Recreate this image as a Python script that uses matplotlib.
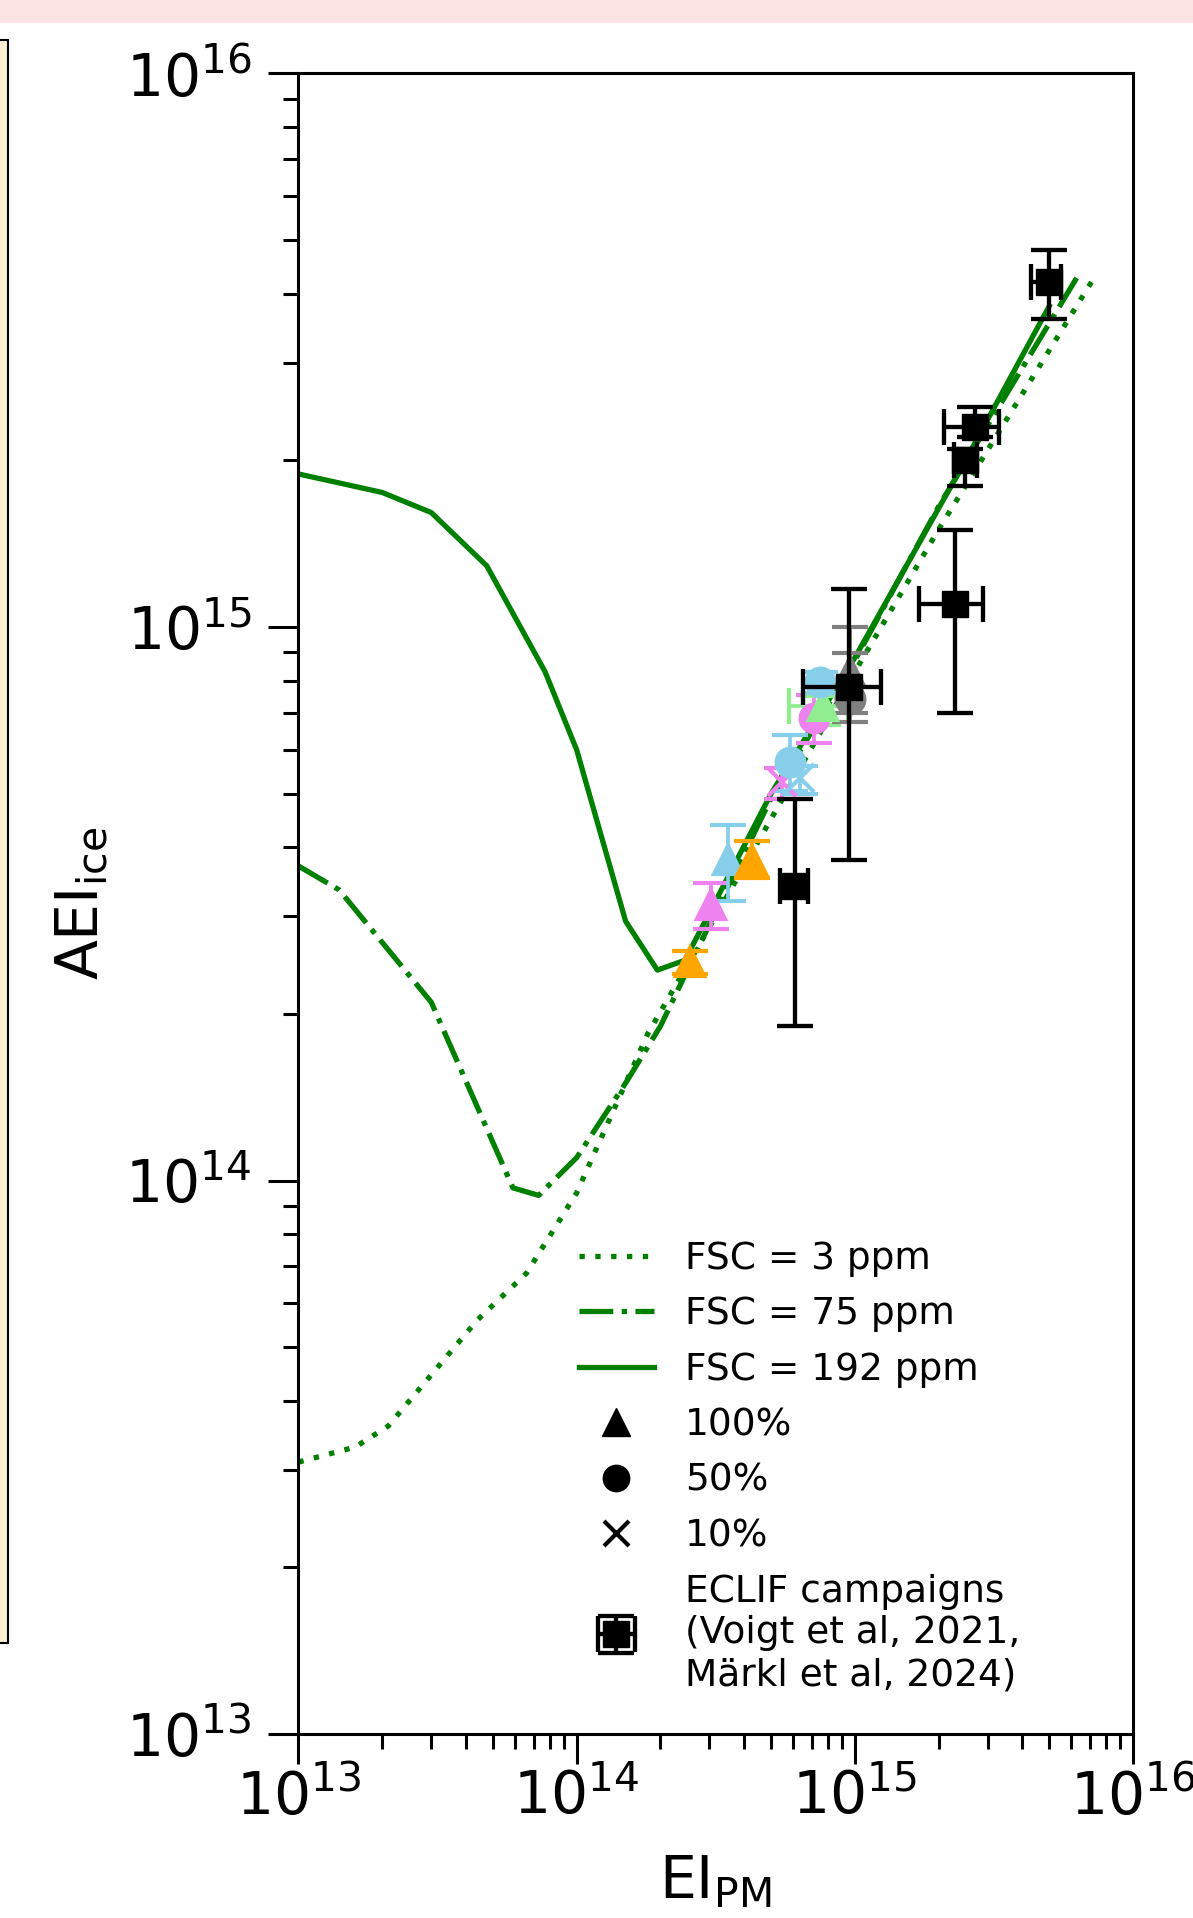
import matplotlib
matplotlib.use("Agg")
import matplotlib.pyplot as plt
from matplotlib.lines import Line2D
from matplotlib.patches import Rectangle

GREEN = "green"

# model curves: AEI_ice against EI_PM for three fuel sulphur contents
fsc3_x = [1e13, 1.6e13, 2.1e13, 4.4e13, 6.6e13, 1e14, 1.8e14, 3e14, 5e14, 1e15, 2e15, 7.3e15]
fsc3_y = [3.1e13, 3.3e13, 3.6e13, 5.6e13, 6.8e13, 9.5e13, 1.84e14, 2.87e14, 4.5e14, 8.3e14, 1.5e15, 4.3e15]
fsc75_x = [1e13, 1.4e13, 3e13, 5.9e13, 7.3e13, 1e14, 1.5e14, 2e14, 3e14, 5e14, 1e15, 2e15, 6.5e15]
fsc75_y = [3.7e14, 3.35e14, 2.1e14, 9.7e13, 9.4e13, 1.1e14, 1.5e14, 1.9e14, 2.9e14, 4.9e14, 8.7e14, 1.65e15, 4.4e15]
fsc192_x = [1e13, 2e13, 3e13, 4.75e13, 7.7e13, 1e14, 1.5e14, 1.95e14, 2.45e14, 5e14, 1e15, 2.5e15, 5e15]
fsc192_y = [1.89e15, 1.75e15, 1.61e15, 1.29e15, 8.3e14, 6.0e14, 2.94e14, 2.4e14, 2.5e14, 5.0e14, 8.8e14, 2.0e15, 3.8e15]

# simulated points (marker = fraction, colour = case)
sim_x = [2.55e14, 3.05e14, 3.51e14, 4.26e14, 5.46e14, 6.35e14, 5.85e14, 7.14e14, 7.67e14, 7.48e14, 9.6e14, 9.6e14]
sim_y = [2.48e14, 3.14e14, 3.79e14, 3.79e14, 5.25e14, 5.33e14, 5.7e14, 6.84e14, 7.2e14, 7.94e14, 7.4e14, 8.28e14]
sim_ylo = [2.36e14, 2.85e14, 3.2e14, 3.52e14, 4.89e14, 5.0e14, 5.06e14, 6.16e14, 6.64e14, 7.6e14, 6.74e14, 7.0e14]
sim_yhi = [2.6e14, 3.45e14, 4.39e14, 4.1e14, 5.57e14, 5.6e14, 6.38e14, 7.54e14, 7.5e14, 8.3e14, 8.97e14, 1.0e15]
sim_xlo = [None, None, None, None, None, None, None, None, 5.81e14, None, None, None]
sim_xhi = [None, None, None, None, None, None, None, None, 9.45e14, None, None, None]
sim_color = ["orange", "violet", "skyblue", "orange", "violet", "skyblue", "skyblue", "violet",
             "lightgreen", "skyblue", "gray", "gray"]
sim_marker = ["^", "^", "^", "^", "x", "x", "o", "o", "^", "o", "o", "^"]

# ECLIF measurements
eclif_x = [6.1e14, 9.5e14, 2.29e15, 2.49e15, 2.7e15, 4.97e15]
eclif_y = [3.41e14, 7.8e14, 1.1e15, 2.0e15, 2.3e15, 4.2e15]
eclif_xlo = [5.38e14, 6.5e14, 1.7e15, 2.28e15, 2.1e15, 4.3e15]
eclif_xhi = [6.8e14, 1.24e15, 2.9e15, 2.75e15, 3.3e15, 5.5e15]
eclif_ylo = [1.9e14, 3.8e14, 7.0e14, 1.8e15, 2.2e15, 3.6e15]
eclif_yhi = [4.89e14, 1.17e15, 1.5e15, 2.1e15, 2.5e15, 4.8e15]

fig = plt.figure(figsize=(11.93, 19.18), dpi=100)
# leftovers of the surrounding page: pink strip on top, edge of the neighbouring panel
fig.patches.append(Rectangle((0, 1 - 23 / 1918), 1, 23 / 1918, transform=fig.transFigure,
                             fc="#fde4e4", ec="none"))
fig.patches.append(Rectangle((-0.01, 1 - 1643 / 1918), 0.01 + 8 / 1193, 1603 / 1918,
                             transform=fig.transFigure, fc="#fdeed3", ec="black", lw=1.5))

ax = fig.add_axes([0.2502, 0.0959, 0.6995, 0.8658])
ax.set_xscale("log"); ax.set_yscale("log")

LW = 3.8
ax.plot(fsc3_x, fsc3_y, color=GREEN, lw=LW, ls=(0, (1, 2)))
ax.plot(fsc75_x, fsc75_y, color=GREEN, lw=LW, ls="-.")
ax.plot(fsc192_x, fsc192_y, color=GREEN, lw=LW, ls="-")

for x, y, ylo, yhi, xlo, xhi, c, m in zip(sim_x, sim_y, sim_ylo, sim_yhi, sim_xlo, sim_xhi,
                                          sim_color, sim_marker):
    xerr = None if xlo is None else [[x - xlo], [xhi - x]]
    ax.errorbar([x], [y], yerr=[[y - ylo], [yhi - y]], xerr=xerr, fmt=m, color=c, ms=20,
                mew=3, elinewidth=2.7, capsize=13, capthick=2.7, zorder=3)

eclif = None
for i in range(len(eclif_x)):
    x, y = eclif_x[i], eclif_y[i]
    e = ax.errorbar([x], [y], yerr=[[y - eclif_ylo[i]], [eclif_yhi[i] - y]],
                    xerr=[[x - eclif_xlo[i]], [eclif_xhi[i] - x]], fmt="s", color="black",
                    ms=18.5, elinewidth=3.1, capsize=13, capthick=3.1, zorder=4)
    if eclif is None:
        eclif = e

ax.set_xlim(1e13, 1e16); ax.set_ylim(1e13, 1e16)
for s in ax.spines.values():
    s.set_linewidth(2.2)
ax.tick_params(which="major", length=21.6, width=2.2, labelsize=42)
ax.tick_params(which="minor", length=10.8, width=2.2)
ax.tick_params(axis="y", which="major", pad=12)

ax.set_ylabel(r"AEI$_{\mathregular{ice}}$", fontsize=42)
ax.yaxis.set_label_coords(-0.226, 0.5)
ax.set_xlabel(r"EI$_{\mathregular{PM}}$", fontsize=42)
ax.xaxis.set_label_coords(0.5, -0.071)

handles = [Line2D([], [], color=GREEN, lw=LW, ls=(0, (1, 2))),
           Line2D([], [], color=GREEN, lw=LW, ls="-."),
           Line2D([], [], color=GREEN, lw=LW, ls="-"),
           Line2D([], [], ls="none", marker="^", color="black", ms=20),
           Line2D([], [], ls="none", marker="o", color="black", ms=19),
           Line2D([], [], ls="none", marker="x", color="black", ms=18, mew=3),
           eclif]
labels = ["FSC = 3 ppm", "FSC = 75 ppm", "FSC = 192 ppm", "100%", "50%", "10%",
          "ECLIF campaigns\n(Voigt et al, 2021,\nMärkl et al, 2024)"]
ax.legend(handles, labels, loc="upper left", bbox_to_anchor=(0.336, 0.297), frameon=False,
          fontsize=27, labelspacing=0.52, handlelength=2.0, handletextpad=0.82,
          borderpad=0, borderaxespad=0)

fig.savefig("out.png", dpi=100)
